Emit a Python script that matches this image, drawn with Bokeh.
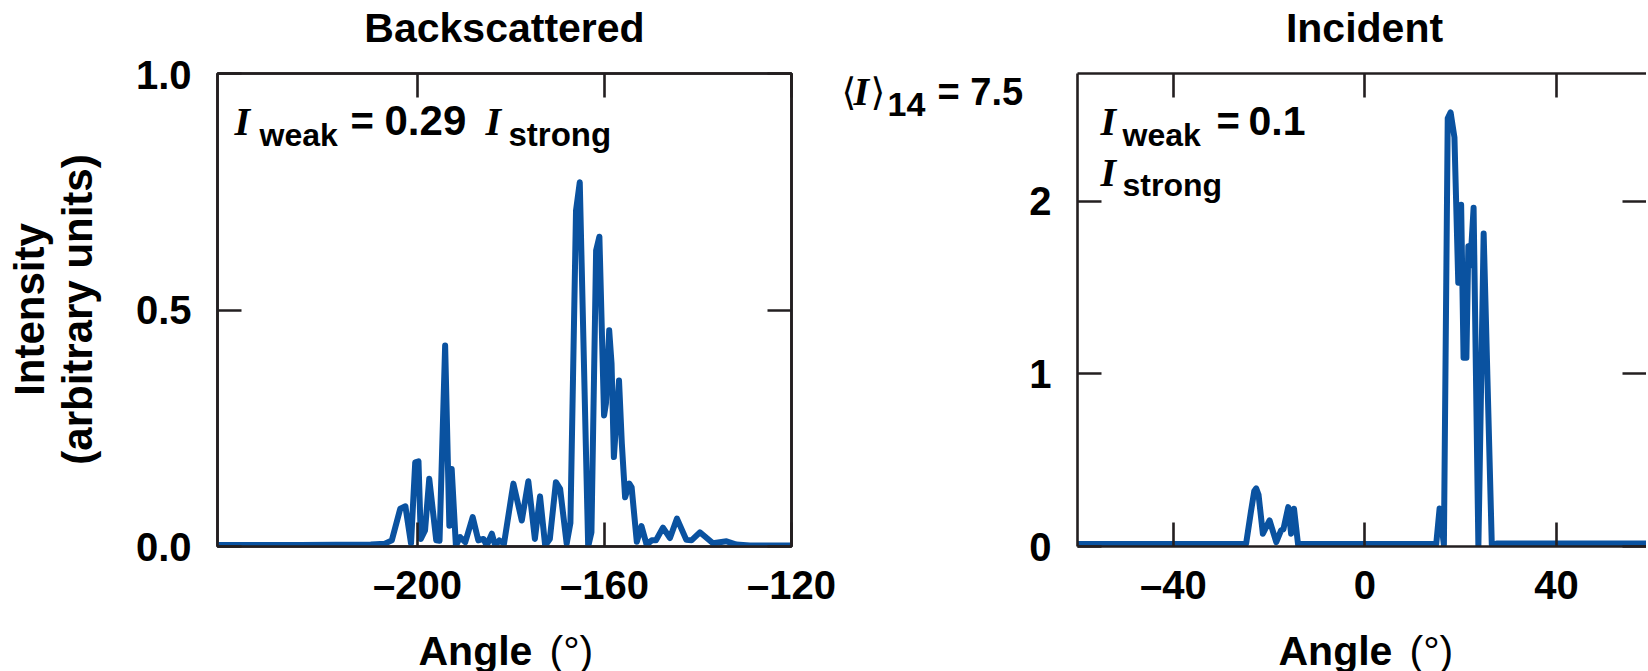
from bokeh.plotting import figure
from bokeh.models import Label, LinearAxis, FixedTicker, CustomJSTickFormatter, Range1d
from bokeh.layouts import row, column
from bokeh.embed import file_html
from bokeh.resources import INLINE

# ---------------- data ----------------
back_angle = [-245, -225, -210, -207.0, -205.5, -203.7, -202.6, -201.4, -200.5, -199.8,
              -199.3, -198.4, -197.5, -196.0, -195.3, -194.1, -193.2, -192.7, -191.8, -190.9,
              -189.8, -188.2, -187.0, -185.9, -185.2, -184.1, -183.4, -182.5, -181.5, -179.5,
              -177.7, -176.3, -174.9, -173.8, -172.7, -171.7, -170.4, -169.5, -168.1, -167.3,
              -166.1, -165.3, -164.9, -163.5, -162.8, -161.8, -161.1, -160.1, -159.7, -159.0,
              -158.5, -158.0, -156.9, -156.3, -155.6, -154.7, -154.2, -153.1, -152.1, -151.0,
              -149.9, -149.0, -147.5, -146.0, -144.5, -142.5, -141.4, -139.6, -136.8, -133.9,
              -131.8, -128.9, -115]
back_intensity = [0.003, 0.003, 0.004, 0.006, 0.013, 0.080, 0.085, 0.006, 0.178, 0.180,
                  0.016, 0.034, 0.143, 0.013, 0.012, 0.425, 0.044, 0.164, 0.002, 0.020,
                  0.009, 0.062, 0.013, 0.016, 0.002, 0.027, 0.002, 0.013, 0.006, 0.133,
                  0.055, 0.138, 0.016, 0.106, 0.002, 0.016, 0.136, 0.122, 0.006, 0.050,
                  0.710, 0.770, 0.600, 0.000, 0.030, 0.626, 0.655, 0.277, 0.302, 0.457,
                  0.387, 0.189, 0.351, 0.218, 0.104, 0.133, 0.125, 0.010, 0.043, 0.004,
                  0.013, 0.013, 0.040, 0.018, 0.059, 0.014, 0.013, 0.030, 0.007, 0.011,
                  0.004, 0.002, 0.002]

inc_angle = [-65, -40, -26.0, -24.8, -23.8, -23.1, -22.7, -22.2, -21.3, -19.9,
             -18.5, -17.5, -17.0, -16.0, -15.4, -14.8, -13.9, -13.5, 0, 14.9,
             15.6, 16.5, 17.3, 17.9, 18.7, 19.5, 20.1, 20.6, 21.2, 21.6,
             22.0, 22.7, 23.7, 24.8, 26.5, 27.5, 40, 65]
inc_intensity = [0.015, 0.015, 0.015, 0.016, 0.200, 0.320, 0.337, 0.300, 0.074, 0.151,
                 0.025, 0.093, 0.100, 0.228, 0.074, 0.219, 0.000, 0.015, 0.015, 0.015,
                 0.220, 0.010, 2.480, 2.515, 2.370, 1.528, 1.980, 1.094, 1.094, 1.739,
                 1.627, 1.962, 0.000, 1.813, 0.010, 0.017, 0.017, 0.017]

back_xticks = [-200, -160, -120]
back_xlabels = ["\u2013200", "\u2013160", "\u2013120"]
back_yticks = [0, 0.5, 1.0]
back_ylabels = ["0.0", "0.5", "1.0"]
inc_xticks = [-40, 0, 40]
inc_xlabels = ["\u201340", "0", "40"]
inc_yticks = [0, 1, 2]
inc_ylabels = ["0", "1", "2"]

# ---------------- style ----------------
BLUE = "#0A52A0"
INK = "#231F20"
SANS = "Liberation Sans"
SERIF = "Liberation Serif"
TOP_H = 60          # strip holding the panel titles
ROW_H = 570         # strip holding the plots
BOT_H = 41          # strip holding the x-axis titles
FRAME_H = 473
ROW_TOP = 13
ROW_BOT = ROW_H - ROW_TOP - FRAME_H
SHIFT = 0.33        # label anchor sits this fraction of the font size above the baseline


def style_axis(ax, ticks, labels=None, show_line=True, standoff=26):
    ax.ticker = FixedTicker(ticks=ticks)
    ax.major_tick_in = 24
    ax.major_tick_out = 0
    ax.minor_tick_line_color = None
    ax.major_tick_line_width = 2.6
    ax.major_tick_line_color = INK
    ax.axis_line_width = 2.6
    ax.axis_line_color = INK if show_line else None
    if labels is not None:
        ax.major_label_overrides = {t: s for t, s in zip(ticks, labels)}
        ax.major_label_text_font = SANS
        ax.major_label_text_font_style = "bold"
        ax.major_label_text_font_size = "40px"
        ax.major_label_text_color = "black"
        ax.major_label_standoff = standoff
    else:
        ax.formatter = CustomJSTickFormatter(code="return ''")
        ax.major_label_text_font_size = "1px"
        ax.major_label_standoff = 0


def blank(width, height, top=0, bottom=0):
    p = figure(width=width, height=height, x_range=Range1d(0, 1), y_range=Range1d(0, 1),
               x_axis_type=None, y_axis_type=None, output_backend="svg",
               toolbar_location=None, min_border=0,
               min_border_top=top, min_border_bottom=bottom)
    p.title = None
    p.outline_line_color = None
    p.xgrid.visible = False
    p.ygrid.visible = False
    return p


def make_fig(xr, yr, left, right, fw):
    p = figure(frame_width=fw, frame_height=FRAME_H, x_range=Range1d(*xr), y_range=Range1d(*yr),
               output_backend="svg", toolbar_location=None,
               min_border_left=left, min_border_right=right,
               min_border_top=ROW_TOP, min_border_bottom=ROW_BOT)
    p.title = None
    p.xgrid.visible = False
    p.ygrid.visible = False
    return p


def lab(p, x, y, text, size, font=SANS, style="bold", align="left", vertical=False):
    # x, y: baseline position relative to the frame's bottom-left corner
    if vertical:
        x, angle = x - SHIFT * size, 1.5707963
    else:
        y, angle = y + SHIFT * size, 0.0
    p.add_layout(Label(x=x, y=y, x_units="screen", y_units="screen", text=text,
                       text_font=font, text_font_style=style, text_font_size=f"{size}px",
                       text_color="black", text_align=align, text_baseline="alphabetic",
                       angle=angle))


# ---------------- left: backscattered ----------------
p1 = make_fig((-242.8, -120), (0, 1.0), 97, 46, 574)
p1.outline_line_color = INK
p1.outline_line_width = 2.6
style_axis(p1.xaxis[0], back_xticks, back_xlabels, standoff=16)
style_axis(p1.yaxis[0], back_yticks, back_ylabels, standoff=26)
top1 = LinearAxis()
style_axis(top1, back_xticks)
p1.add_layout(top1, "above")
right1 = LinearAxis()
style_axis(right1, back_yticks)
p1.add_layout(right1, "right")
p1.line(back_angle, back_intensity, line_color=BLUE, line_width=6, line_join="round")

lab(p1, 17, 412, "I", 40, font=SERIF, style="bold italic")
lab(p1, 42, 401, "weak", 32)
lab(p1, 133, 412, "=", 40)
lab(p1, 167, 412, "0.29", 42)
lab(p1, 268, 412, "I", 40, font=SERIF, style="bold italic")
lab(p1, 291, 401, "strong", 33)

# ---------------- right: incident ----------------
p2 = make_fig((-60, 58.8), (0, 2.74), 52, 0, 569)
p2.outline_line_color = None
style_axis(p2.xaxis[0], inc_xticks, inc_xlabels, standoff=16)
style_axis(p2.yaxis[0], inc_yticks, inc_ylabels, standoff=26)
top2 = LinearAxis()
style_axis(top2, inc_xticks)
p2.add_layout(top2, "above")
right2 = LinearAxis()
style_axis(right2, inc_yticks, show_line=False)
p2.add_layout(right2, "right")
p2.line(inc_angle, inc_intensity, line_color=BLUE, line_width=6, line_join="round")

lab(p2, 23, 412, "I", 40, font=SERIF, style="bold italic")
lab(p2, 45, 401, "weak", 32)
lab(p2, 139, 412, "=", 40)
lab(p2, 171, 412, "0.1", 41)
lab(p2, 23, 361, "I", 40, font=SERIF, style="bold italic")
lab(p2, 45, 351, "strong", 32)

# ---------------- text strips ----------------
left_strip = blank(120, ROW_H, ROW_TOP, ROW_BOT)
lab(left_strip, 43, 237, "Intensity", 42, align="center", vertical=True)
lab(left_strip, 91, 237, "(arbitrary units)", 42, align="center", vertical=True)

mid = blank(188, ROW_H, ROW_TOP, ROW_BOT)
lab(mid, 4, 442, "\u27e8", 38, font="DejaVu Sans", style="normal")
lab(mid, 16, 442, "I", 40, font=SERIF, style="bold italic")
lab(mid, 33, 442, "\u27e9", 38, font="DejaVu Sans", style="normal")
lab(mid, 50, 431, "14", 34)
lab(mid, 100, 442, "= 7.5", 38)

top_strip = blank(1648, TOP_H)
lab(top_strip, 504, 19, "Backscattered", 41, align="center")
lab(top_strip, 1364, 19, "Incident", 41, align="center")

bot_strip = blank(1648, BOT_H)
lab(bot_strip, 418, 7, "Angle", 41)
lab(bot_strip, 549, 7, "(\u00b0)", 41, style="normal")
lab(bot_strip, 1278, 7, "Angle", 41)
lab(bot_strip, 1409, 7, "(\u00b0)", 41, style="normal")

layout = column(top_strip, row(left_strip, p1, mid, p2), bot_strip)
open("out.html", "w").write(file_html(layout, INLINE))
